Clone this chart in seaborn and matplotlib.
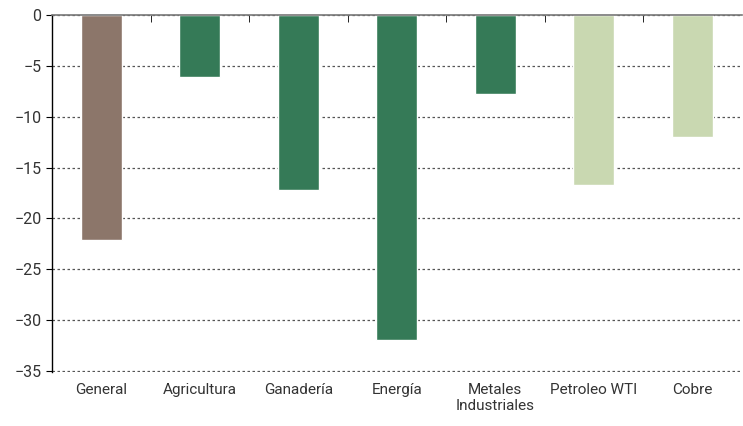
import pandas as pd
import matplotlib
matplotlib.use("Agg")
import matplotlib.pyplot as plt
import seaborn as sns
from matplotlib.ticker import FixedLocator

categories = ["General", "Agricultura", "Ganadería", "Energía",
              "Metales\nIndustriales", "Petroleo WTI", "Cobre"]
values = [-22.1, -6.1, -17.2, -31.9, -7.8, -16.7, -12.0]
bar_colors = ["#8c766a", "#357a57", "#357a57", "#357a57",
              "#357a57", "#c9d8b1", "#c9d8b1"]
y_ticks = [0, -5, -10, -15, -20, -25, -30, -35]

sns.set_style("white")
plt.rcParams['font.family'] = ['Roboto', 'DejaVu Sans']

df = pd.DataFrame({"cat": categories, "val": values})

fig = plt.figure(figsize=(7.43, 4.26), dpi=100)
ax = fig.add_axes([0.07, 0.127, 0.928, 0.838])
sns.barplot(data=df, x="cat", y="val", hue="cat", palette=bar_colors,
            width=0.42, legend=False, ax=ax, saturation=1)

ax.set_ylim(-35.08, 0)
ax.set_xlim(-0.5, len(categories) - 0.5)
ax.set_yticks(y_ticks)
ax.set_yticklabels([str(t).replace("-", "\u2212") for t in y_ticks])
ax.set_axisbelow(True)
ax.yaxis.grid(True, linestyle=(0, (2, 2)), color="#555555", linewidth=0.9)
ax.xaxis.grid(False)

for side in ["right", "bottom"]:
    ax.spines[side].set_visible(False)
ax.spines["left"].set_color("black")
ax.spines["left"].set_linewidth(1)
ax.spines["top"].set_color("#777777")
ax.spines["top"].set_linewidth(1.2)

ax.xaxis.set_minor_locator(FixedLocator([i + 0.5 for i in range(len(categories) - 1)]))
ax.tick_params(axis="x", which="major", length=0, pad=8, labelsize=11, colors="#333333")
ax.tick_params(axis="x", which="minor", bottom=False, top=True, direction="in",
               length=5, color="black")
ax.tick_params(axis="y", length=4, direction="out", left=True, color="black",
               labelsize=11.5, labelcolor="#333333")

ax.set_xlabel("")
ax.set_ylabel("")

fig.savefig("out.png", dpi=100)
